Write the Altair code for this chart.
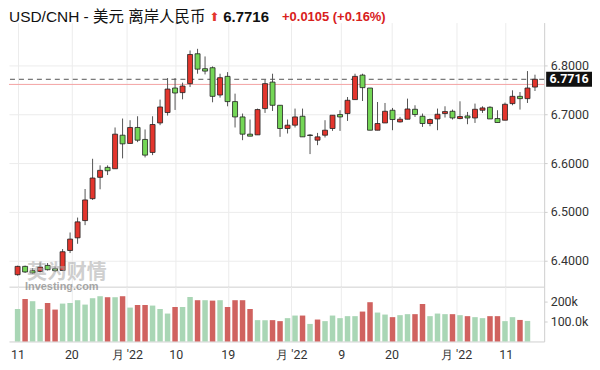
import altair as alt
import pandas as pd

# ---------------- data ----------------
opens = [6.3714, 6.3884, 6.3796, 6.3780, 6.3904, 6.3837, 6.3800, 6.4210, 6.4469, 6.4822,
         6.5271, 6.5708, 6.5912, 6.5884, 6.6571, 6.6402, 6.6729, 6.6484, 6.6218, 6.6822,
         6.7035, 6.7537, 6.7443, 6.7627, 6.8239, 6.7933, 6.7953, 6.7394, 6.7776, 6.7259,
         6.6945, 6.6592, 6.6578, 6.7116, 6.7659, 6.7184, 6.6708, 6.6776, 6.6959, 6.6575,
         6.6469, 6.6571, 6.6708, 6.6994, 6.7014, 6.7300, 6.7802, 6.7537, 6.6673, 6.6822,
         6.7082, 6.6843, 6.6898, 6.7102, 6.6959, 6.6810, 6.6904, 6.7014, 6.7061, 6.6912,
         6.6965, 6.6924, 6.7082, 6.7143, 6.6912, 6.6878, 6.7218, 6.7367, 6.7320, 6.7557]
highs = [6.3898, 6.3900, 6.3850, 6.3965, 6.3953, 6.3884, 6.4239, 6.4578, 6.4884, 6.5469,
         6.6088, 6.5953, 6.5953, 6.6729, 6.6912, 6.6878, 6.6959, 6.6688, 6.6959, 6.7300,
         6.7741, 6.7741, 6.7647, 6.8306, 6.8340, 6.8184, 6.7980, 6.7830, 6.7863, 6.7422,
         6.7014, 6.6892, 6.7116, 6.7708, 6.7830, 6.7184, 6.6892, 6.7116, 6.7116, 6.6592,
         6.6618, 6.6878, 6.6980, 6.7082, 6.7353, 6.7830, 6.7830, 6.7537, 6.7251, 6.7231,
         6.7129, 6.6945, 6.7320, 6.7184, 6.7014, 6.6912, 6.7116, 6.7163, 6.7096, 6.7265,
         6.7047, 6.7218, 6.7163, 6.7163, 6.7082, 6.7239, 6.7490, 6.7455, 6.7884, 6.7810]
lows = [6.3694, 6.3750, 6.3730, 6.3760, 6.3800, 6.3770, 6.3800, 6.4157, 6.4347, 6.4729,
        6.5245, 6.5463, 6.5755, 6.5884, 6.6096, 6.6402, 6.6429, 6.6116, 6.6163, 6.6776,
        6.6973, 6.7088, 6.7306, 6.7557, 6.7830, 6.7816, 6.7245, 6.7341, 6.7163, 6.6729,
        6.6469, 6.6551, 6.6578, 6.7027, 6.7067, 6.6537, 6.6606, 6.6729, 6.6537, 6.6184,
        6.6367, 6.6524, 6.6659, 6.6659, 6.6863, 6.7300, 6.7271, 6.6673, 6.6673, 6.6822,
        6.6673, 6.6831, 6.6898, 6.6945, 6.6741, 6.6755, 6.6673, 6.6933, 6.6892, 6.6898,
        6.6796, 6.6822, 6.7027, 6.6904, 6.6831, 6.6878, 6.7184, 6.7096, 6.7231, 6.7476]
closes = [6.3884, 6.3770, 6.3749, 6.3870, 6.3816, 6.3796, 6.4184, 6.4443, 6.4796, 6.5245,
          6.5694, 6.5851, 6.5843, 6.6592, 6.6394, 6.6729, 6.6469, 6.6163, 6.6790, 6.7149,
          6.7516, 6.7435, 6.7578, 6.8224, 6.7924, 6.7884, 6.7367, 6.7749, 6.7259, 6.6945,
          6.6592, 6.6551, 6.7096, 6.7627, 6.7184, 6.6708, 6.6776, 6.6945, 6.6537, 6.6565,
          6.6537, 6.6673, 6.6980, 6.6945, 6.7286, 6.7776, 6.7545, 6.6673, 6.6810, 6.7061,
          6.6892, 6.6898, 6.7108, 6.6994, 6.6810, 6.6892, 6.7000, 6.7055, 6.6924, 6.6953,
          6.6924, 6.7102, 6.7129, 6.6904, 6.6831, 6.7204, 6.7367, 6.7320, 6.7537, 6.7716]

volumes = [163, 213, 202, 163, 193, 160, 190, 193, 207, 185,
           217, 227, 222, 222, 227, 170, 183, 183, 180, 163,
           140, 173, 173, 223, 207, 207, 205, 207, 173, 207,
           207, 163, 107, 107, 107, 102, 117, 130, 130, 88,
           110, 102, 130, 117, 127, 127, 150, 197, 145, 135,
           122, 132, 137, 137, 188, 127, 140, 137, 137, 132,
           127, 122, 117, 127, 127, 102, 122, 108, 103]
vol_dir = ["down", "up", "down", "down", "up", "up", "down", "down", "down", "down",
           "down", "down", "up", "down", "up", "down", "up", "up", "down", "down",
           "down", "up", "down", "down", "up", "down", "up", "down", "up", "up",
           "up", "up", "down", "down", "up", "up", "down", "down", "up", "down",
           "up", "down", "down", "down", "down", "down", "up", "up", "down", "down",
           "up", "down", "down", "up", "up", "down", "down", "down", "up", "down",
           "up", "down", "down", "up", "up", "down", "down", "up", "down"]

date_ticks = [0, 7.17, 14.56, 21.08, 28.04, 36.5, 43.17, 49.86, 58.47, 65.1]
date_labels = ["11", "20", "月 '22", "10", "19", "月 '22", "9", "20", "月 '22", "11"]
price_ticks = [6.4, 6.5, 6.6, 6.7, 6.8]
vol_ticks = [100, 200]
vol_labels = ["100.0k", "200k"]

last_price = 6.7716
prev_close = 6.7611
title_name = "USD/CNH - 美元 离岸人民币"
title_price = "6.7716"
title_change = "+0.0105 (+0.16%)"

# ---------------- tables ----------------
n = len(opens)
candles = pd.DataFrame({"i": list(range(n)), "open": opens, "high": highs,
                        "low": lows, "close": closes})
candles["dir"] = ["up" if c >= o else "down" for o, c in zip(opens, closes)]
vol = pd.DataFrame({"i": list(range(len(volumes))), "v": volumes,
                    "vdir": ["v" + d for d in vol_dir]})

RED = "#e3352d"
GREEN = "#74d656"
VRED = "#d0625f"
VGREEN = "#a9d6b5"
W = 537
AXFONT = "Roboto"

xscale = alt.Scale(domain=[-0.4826, 69.56], nice=False, zero=False)
yscale = alt.Scale(domain=[6.3469, 6.8878], nice=False, zero=False)

ticks_js = "[" + ",".join(str(t) for t in date_ticks) + "]"
labels_js = "[" + ",".join("\"" + s + "\"" for s in date_labels) + "]"
vt_js = "[" + ",".join(str(t) for t in vol_ticks) + "]"
vl_js = "[" + ",".join("\"" + s + "\"" for s in vol_labels) + "]"

# ---------------- header ----------------
tfont = "Liberation Sans, Noto Sans CJK SC"
h1 = alt.Chart(pd.DataFrame({"t": [title_name]})).mark_text(
    align="left", baseline="middle", font=tfont, fontSize=15.5, color="#111"
).encode(text="t:N", x=alt.value(0), y=alt.value(8))
h2 = alt.Chart(pd.DataFrame({"t": ["⬆"]})).mark_text(
    align="center", baseline="middle", font="DejaVu Sans", fontSize=12, color=RED
).encode(text="t:N", x=alt.value(206), y=alt.value(8))
h3 = alt.Chart(pd.DataFrame({"t": [title_price]})).mark_text(
    align="left", baseline="middle", font=tfont, fontSize=15, fontWeight="bold", color="#111"
).encode(text="t:N", x=alt.value(215), y=alt.value(8))
h4 = alt.Chart(pd.DataFrame({"t": [title_change]})).mark_text(
    align="left", baseline="middle", font=tfont, fontSize=13, fontWeight="bold",
    color="#d8201c"
).encode(text="t:N", x=alt.value(274), y=alt.value(8))
header = alt.layer(h1, h2, h3, h4).properties(width=W, height=14)

# ---------------- price panel ----------------
xaxis_price = alt.Axis(values=date_ticks, labels=False, ticks=False, domain=True,
                       domainColor="#cfcfcf", grid=True, gridColor="#ececec", title=None)
yaxis_price = alt.Axis(orient="right", values=price_ticks, format=".4f", grid=True,
                       gridColor="#ececec", domain=True, domainColor="#cfcfcf",
                       ticks=True, tickSize=3, tickColor="#cfcfcf", labelPadding=3,
                       labelFont=AXFONT, labelFontSize=12.5, labelColor="#333", title=None)

base = alt.Chart(candles).encode(x=alt.X("i:Q", scale=xscale, axis=xaxis_price))

lines = pd.DataFrame({"p": [prev_close, last_price]})
prev_rule = alt.Chart(lines.iloc[[0]]).mark_rule(color="#f3a3a3", strokeWidth=1).encode(
    y=alt.Y("p:Q", scale=yscale, axis=yaxis_price))
last_rule = alt.Chart(lines.iloc[[1]]).mark_rule(color="#555", strokeWidth=1,
                                                 strokeDash=[5, 4]).encode(
    y=alt.Y("p:Q", scale=yscale))

wick = base.mark_rule(color="#555", strokeWidth=1).encode(
    y=alt.Y("low:Q", scale=yscale), y2="high:Q")
body = base.mark_bar(size=5, stroke="#222", strokeWidth=0.8).encode(
    y=alt.Y("open:Q", scale=yscale), y2="close:Q",
    color=alt.Color("dir:N", scale=alt.Scale(domain=["up", "down"], range=[RED, GREEN]),
                    legend=None))

lab = pd.DataFrame({"p": [last_price], "t": [title_price]})
box = alt.Chart(lab).transform_calculate(
    top="datum.p + 0.0153", bot="datum.p - 0.0153"
).mark_rect(color="#111", clip=False).encode(
    x=alt.value(539), x2=alt.value(585),
    y=alt.Y("top:Q", scale=yscale), y2="bot:Q")
box_text = alt.Chart(lab).mark_text(
    color="white", fontWeight="bold", font=AXFONT, fontSize=12.5, align="center",
    baseline="middle", clip=False
).encode(x=alt.value(562), y=alt.Y("p:Q", scale=yscale), text="t:N")

wm1 = alt.Chart(pd.DataFrame({"t": ["英为财情"]})).mark_text(
    font="Noto Sans CJK SC", fontSize=20, fontWeight="bold", color="#a8a8a8",
    opacity=0.55, align="center", baseline="middle"
).encode(text="t:N", x=alt.value(58), y=alt.value(251))
wm2 = alt.Chart(pd.DataFrame({"t": ["Investing.com"]})).mark_text(
    font="Liberation Sans", fontSize=11, fontWeight="bold", color="#8a8a8a",
    opacity=0.75, align="left", baseline="middle"
).encode(text="t:N", x=alt.value(16), y=alt.value(265))

price = alt.layer(prev_rule, last_rule, wick, body, wm1, wm2, box, box_text).properties(
    width=W, height=265)

# ---------------- volume panel ----------------
xaxis_vol = alt.Axis(values=date_ticks, labelExpr=labels_js + "[indexof(" + ticks_js + ", datum.value)]",
                     ticks=False, domain=True, domainColor="#cfcfcf", grid=True,
                     gridColor="#ececec", labelFont=AXFONT, labelFontSize=12.5,
                     labelColor="#333", labelPadding=7, labelFlush=5, labelFlushOffset=4,
                     title=None)
yaxis_vol = alt.Axis(orient="right", values=vol_ticks,
                     labelExpr=vl_js + "[indexof(" + vt_js + ", datum.value)]",
                     grid=False, domain=True, domainColor="#cfcfcf", ticks=True, tickSize=3,
                     tickColor="#cfcfcf", labelPadding=3, labelFont=AXFONT,
                     labelFontSize=12.5, labelColor="#333", title=None)
volume = alt.Chart(vol).mark_bar(size=5.5).encode(
    x=alt.X("i:Q", scale=xscale, axis=xaxis_vol),
    y=alt.Y("v:Q", scale=alt.Scale(domain=[0, 275], nice=False), axis=yaxis_vol),
    color=alt.Color("vdir:N", scale=alt.Scale(domain=["vup", "vdown"], range=[VRED, VGREEN]),
                    legend=None),
).properties(width=W, height=55)

chart = alt.vconcat(header, price, volume, spacing=0, bounds="flush").resolve_scale(
    color="independent"
).properties(
    padding={"left": 0, "top": 0, "right": 0, "bottom": 0}
).configure_view(stroke=None).configure_concat(spacing=0)

chart.save("out.html", embed_options={"renderer": "svg", "actions": False})
